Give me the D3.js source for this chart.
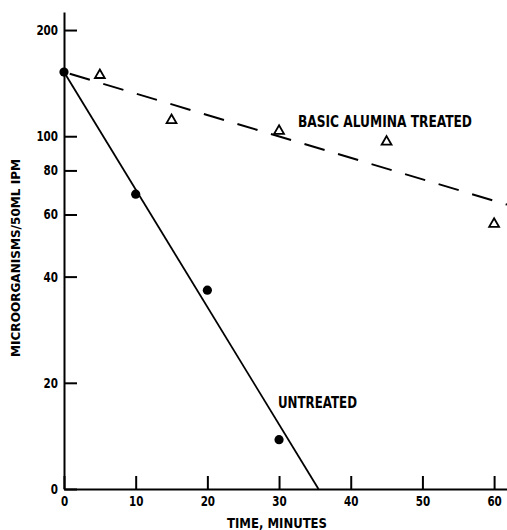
<!DOCTYPE html>
<html>
<head>
<meta charset="utf-8">
<script src="https://cdn.jsdelivr.net/npm/d3@7"></script>
<style>
  html, body { margin: 0; padding: 0; background: #fff; }
  svg { display: block; }
  text { font-family: 'DejaVu Sans Condensed', 'Liberation Sans Narrow', 'Liberation Sans', sans-serif; font-weight: bold; fill: #000; }
</style>
</head>
<body>
<svg id="chart" width="507" height="530"></svg>
<script>
// Survival of microorganisms in IPM over time
const untreatedTime = [0, 10, 20, 30];
const untreatedCount = [152, 68.5, 36.6, 13.8];

const treatedTime = [5, 15, 30, 45, 60];
const treatedCount = [149, 111, 103.5, 96.4, 56.4];

// fitted lines (time, count)
const untreatedFitTime = [0, 35.5];
const untreatedFitCount = [152, 10];
const treatedFitTime = [0, 61.8];
const treatedFitCount = [152, 64];

const xTicks = [0, 10, 20, 30, 40, 50, 60];
const xTickLabels = ["0", "10", "20", "30", "40", "50", "60"];
const yTicks = [10, 20, 40, 60, 80, 100, 200];
const yTickLabels = ["0", "20", "40", "60", "80", "100", "200"];

const FONT = "'DejaVu Sans Condensed', 'Liberation Sans Narrow', 'Liberation Sans', sans-serif";
const svg = d3.select("#chart");

const x = d3.scaleLinear().domain([0, 61.8]).range([64, 507]);
const y = d3.scaleLog().domain([10, 225]).range([489, 12]);

// axes
const xAxis = d3.axisBottom(x)
  .tickValues(xTicks)
  .tickFormat((d, i) => xTickLabels[i])
  .tickSizeInner(-13).tickSizeOuter(0).tickPadding(7);
const yAxis = d3.axisLeft(y)
  .tickValues(yTicks)
  .tickFormat((d, i) => yTickLabels[i])
  .tickSizeInner(-13).tickSizeOuter(0).tickPadding(6);

const gx = svg.append("g").attr("transform", `translate(0,${y(10)})`).call(xAxis);
const gy = svg.append("g").attr("transform", `translate(${x(0)},0)`).call(yAxis);

[gx, gy].forEach(g => {
  g.selectAll("path.domain").attr("stroke", "#000").attr("stroke-width", 2);
  g.selectAll(".tick line").attr("stroke", "#000").attr("stroke-width", 2);
  g.selectAll(".tick text")
    .style("font-size", "14px").style("font-family", FONT).style("font-weight", "bold")
    .attr("fill", "#000")
    .attr("textLength", function () { return this.textContent.length * 7.2; })
    .attr("lengthAdjust", "spacingAndGlyphs");
});

const line = d3.line().x(d => x(d[0])).y(d => y(d[1]));

// untreated fit
svg.append("path")
  .datum(untreatedFitTime.map((t, i) => [t, untreatedFitCount[i]]))
  .attr("d", line)
  .attr("fill", "none").attr("stroke", "#000").attr("stroke-width", 1.8);

// treated fit (dashed)
svg.append("path")
  .datum(treatedFitTime.map((t, i) => [t, treatedFitCount[i]]))
  .attr("d", line)
  .attr("fill", "none").attr("stroke", "#000").attr("stroke-width", 2)
  .attr("stroke-dasharray", "21 14").attr("stroke-dashoffset", -6);

// untreated points
svg.append("g").selectAll("circle")
  .data(untreatedTime.map((t, i) => [t, untreatedCount[i]]))
  .join("circle")
  .attr("cx", d => x(d[0])).attr("cy", d => y(d[1])).attr("r", 4.6)
  .attr("fill", "#000");

// treated points (open triangles)
const tri = d3.symbol().type(d3.symbolTriangle).size(42);
svg.append("g").selectAll("path")
  .data(treatedTime.map((t, i) => [t, treatedCount[i]]))
  .join("path")
  .attr("d", tri)
  .attr("transform", d => `translate(${x(d[0])},${y(d[1])})`)
  .attr("fill", "#fff").attr("stroke", "#000").attr("stroke-width", 1.8);

// series labels
svg.append("text").attr("x", 298).attr("y", 127)
  .attr("textLength", 174).attr("lengthAdjust", "spacingAndGlyphs")
  .style("font-size", "16px").text("BASIC ALUMINA TREATED");
svg.append("text").attr("x", 278).attr("y", 408)
  .attr("textLength", 79).attr("lengthAdjust", "spacingAndGlyphs")
  .style("font-size", "15px").text("UNTREATED");

// axis titles
svg.append("text").attr("x", 277).attr("y", 528).attr("text-anchor", "middle")
  .attr("textLength", 100).attr("lengthAdjust", "spacingAndGlyphs")
  .style("font-size", "14px").text("TIME, MINUTES");
svg.append("text")
  .attr("transform", "translate(20,258) rotate(-90)")
  .attr("text-anchor", "middle")
  .attr("textLength", 198).attr("lengthAdjust", "spacingAndGlyphs")
  .style("font-size", "13px").text("MICROORGANISMS/50ML IPM");
</script>
</body>
</html>
